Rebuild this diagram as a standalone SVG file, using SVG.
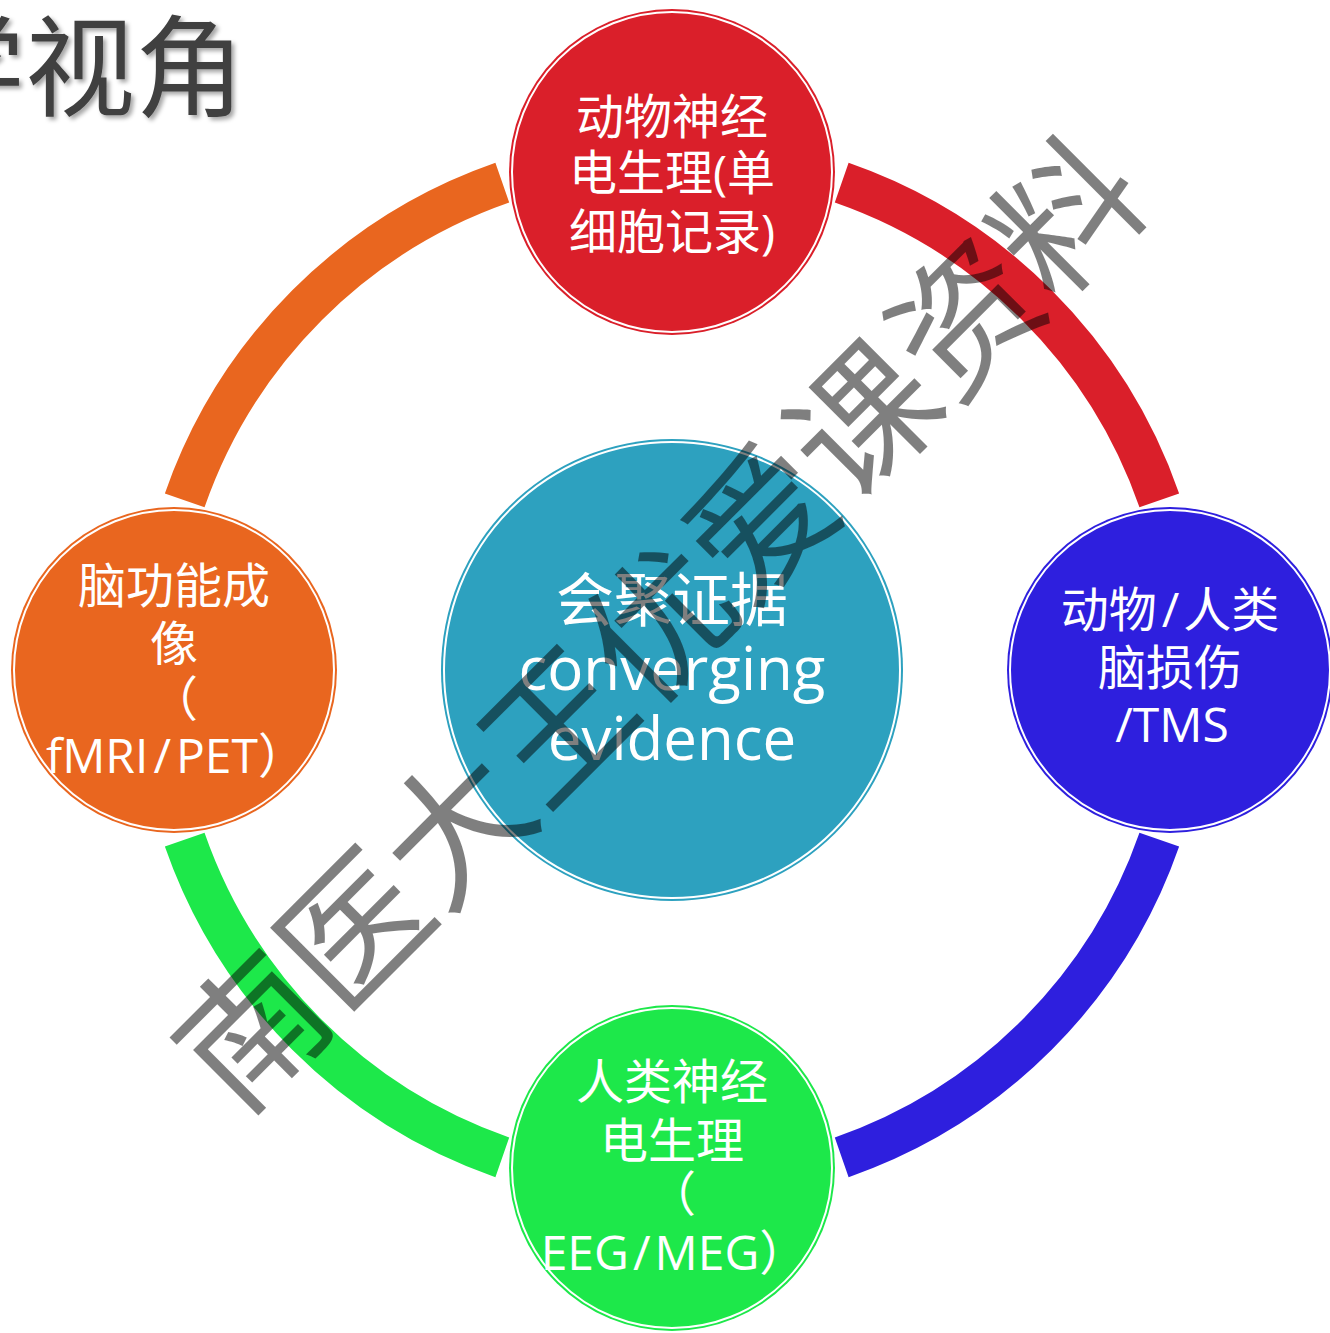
<svg xmlns="http://www.w3.org/2000/svg" width="1330" height="1333" viewBox="0 0 1330 1333">
<defs>
<filter id="shadow" x="-10%" y="-10%" width="130%" height="140%">
<feDropShadow dx="3" dy="3" stdDeviation="2" flood-color="#000" flood-opacity="0.35"/>
</filter>
</defs>
<style>
.arc{fill:none;stroke-width:42;stroke-linecap:butt}
.inner{fill:none;stroke:#fff;stroke-width:2}
.lbl{font-family:"Open Sans","Noto Sans CJK SC",sans-serif;font-size:48px;fill:#fff;text-anchor:middle}
.big{font-size:60px}
.title{font-family:"Noto Sans CJK SC",sans-serif;font-size:110px;fill:#404040;text-anchor:end}
.wm{font-family:"Noto Sans CJK SC",sans-serif;font-size:144px;fill:#000;fill-opacity:0.5;text-anchor:middle}
</style>
<rect width="1330" height="1333" fill="#fff"/>
<g id="title"><text class="title" x="245" y="108" filter="url(#shadow)">学视角</text></g>
<g id="connectors">
<path class="arc" stroke="#E9661F" d="M184.7,500.3 A516,516 0 0 1 502.3,182.7"/>
<path class="arc" stroke="#DA1F2A" d="M841.7,182.7 A516,516 0 0 1 1159.3,500.3"/>
<path class="arc" stroke="#2E1FDE" d="M1159.3,839.7 A516,516 0 0 1 841.7,1157.3"/>
<path class="arc" stroke="#1DE84A" d="M502.3,1157.3 A516,516 0 0 1 184.7,839.7"/>
</g>
<g id="node-center">
<circle cx="672" cy="670" r="231" fill="#2DA1BF"/>
<circle class="inner" cx="672" cy="670" r="228" stroke-width="1.5"/>
<text class="lbl" x="672" y="621" style="font-size:58px">会聚证据</text>
<text class="lbl big" x="672" y="690">converging</text>
<text class="lbl big" x="672" y="760">evidence</text>
</g>
<g id="node-top">
<circle cx="672" cy="172" r="163" fill="#DA1F2A"/>
<circle class="inner" cx="672" cy="172" r="160"/>
<text class="lbl" x="672" y="134">动物神经</text>
<text class="lbl" x="672" y="190">电生理(单</text>
<text class="lbl" x="672" y="249">细胞记录)</text>
</g>
<g id="node-left">
<circle cx="174" cy="670" r="163" fill="#E9661F"/>
<circle class="inner" cx="174" cy="670" r="160"/>
<text class="lbl" x="174" y="603">脑功能成</text>
<text class="lbl" x="174" y="661">像</text>
<text class="lbl" x="174" y="716">（</text>
<text class="lbl" x="176" y="773">fMRI<tspan dx="5">/</tspan><tspan dx="5">PET）</tspan></text>
</g>
<g id="node-right">
<circle cx="1170" cy="670" r="163" fill="#2E1FDE"/>
<circle class="inner" cx="1170" cy="670" r="160"/>
<text class="lbl" x="1170" y="627">动物<tspan dx="5">/</tspan><tspan dx="4">人类</tspan></text>
<text class="lbl" x="1170" y="685">脑损伤</text>
<text class="lbl" x="1172" y="742">/TMS</text>
</g>
<g id="node-bottom">
<circle cx="672" cy="1168" r="163" fill="#1DE84A"/>
<circle class="inner" cx="672" cy="1168" r="160"/>
<text class="lbl" x="672" y="1099">人类神经</text>
<text class="lbl" x="672" y="1158">电生理</text>
<text class="lbl" x="672" y="1211">（</text>
<text class="lbl" x="674" y="1270">EEG<tspan dx="4">/</tspan><tspan dx="4">MEG）</tspan></text>
</g>
<g id="watermark"><text class="wm" transform="translate(658,622) rotate(-45)" x="0" y="55">南医大王优爱课资料</text></g>
</svg>
